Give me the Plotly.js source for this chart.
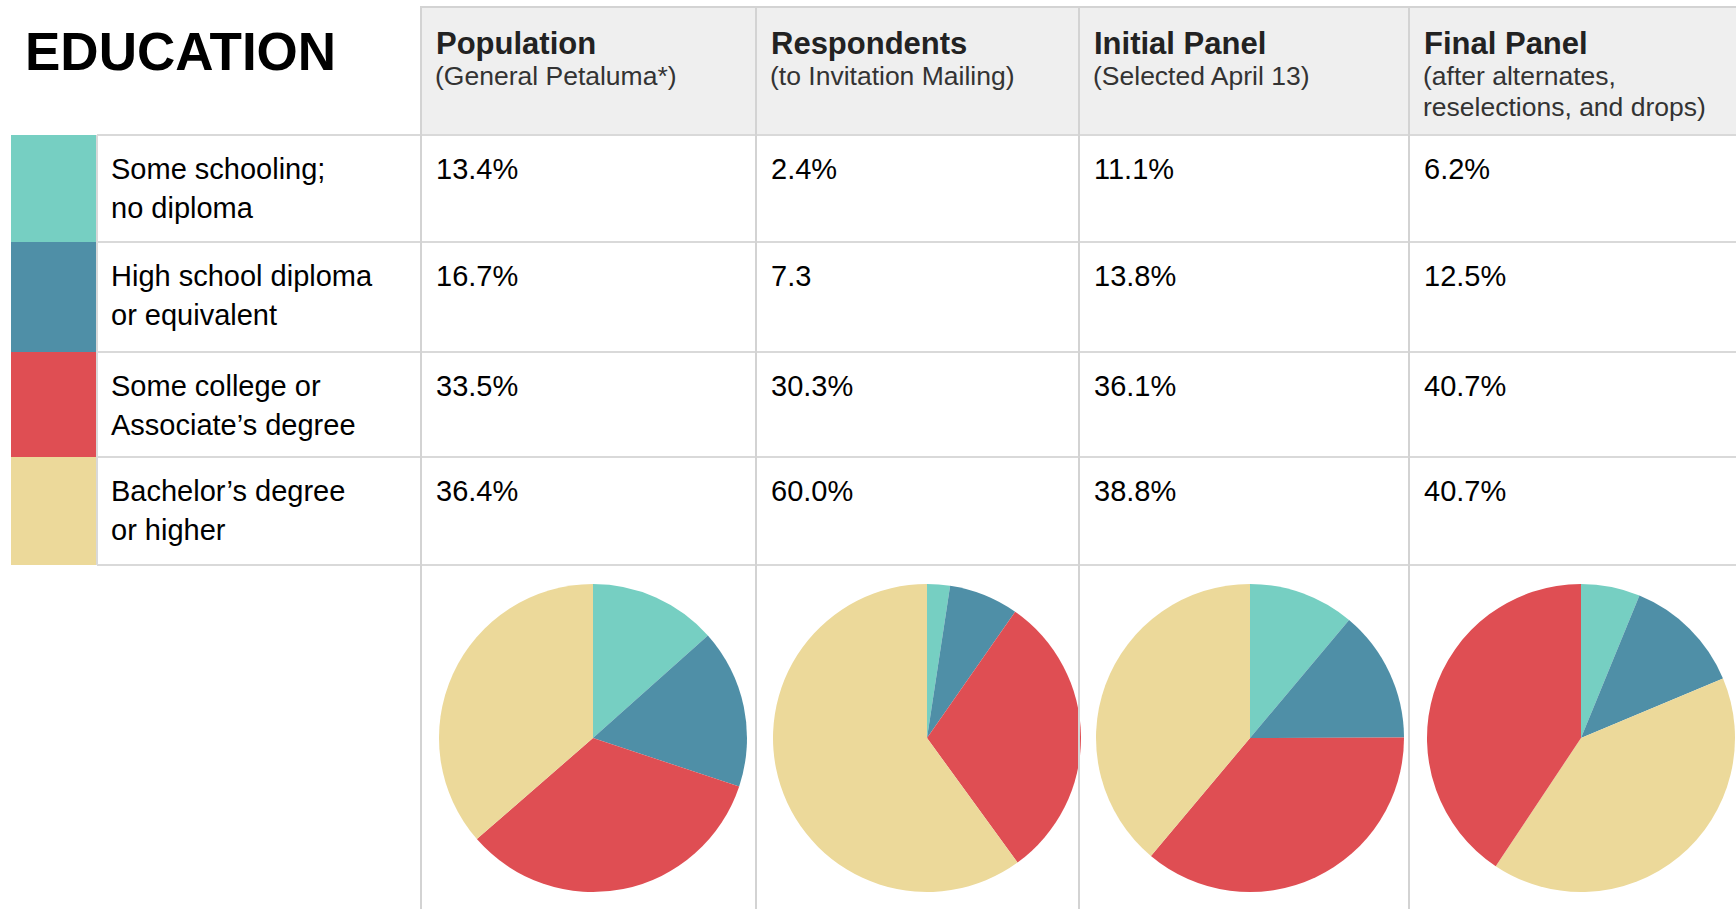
<!DOCTYPE html>
<html><head><meta charset="utf-8">
<script src="https://cdn.plot.ly/plotly-3.0.1.min.js"></script>
<style>html,body{margin:0;padding:0;background:#fff;overflow:hidden}#chart{width:1736px;height:909px}</style>
</head><body><div id="chart"></div>
<script>
// ---- data ----
const chartTitle = 'EDUCATION';
const categories = ['Some schooling;<br>no diploma', 'High school diploma<br>or equivalent', 'Some college or<br>Associate’s degree', 'Bachelor’s degree<br>or higher'];
const categoryColors = ['#76cfc2', '#4f8fa7', '#df4e53', '#ecd99a'];
const groups = ['Population', 'Respondents', 'Initial Panel', 'Final Panel'];
const groupNotes = ['(General Petaluma*)', '(to Invitation Mailing)', '(Selected April 13)', '(after alternates,<br>reselections, and drops)'];
const population = [13.4, 16.7, 33.5, 36.4];
const respondents = [2.4, 7.3, 30.3, 60.0];
const initialPanel = [11.1, 13.8, 36.1, 38.8];
const finalPanel = [6.2, 12.5, 40.7, 40.7];
const populationText = ['13.4%', '16.7%', '33.5%', '36.4%'];
const respondentsText = ['2.4%', '7.3', '30.3%', '60.0%'];
const initialPanelText = ['11.1%', '13.8%', '36.1%', '38.8%'];
const finalPanelText = ['6.2%', '12.5%', '40.7%', '40.7%'];
const sliceOrders = [[0, 1, 2, 3], [0, 1, 2, 3], [0, 1, 2, 3], [0, 1, 3, 2]];

const seriesValues = [population, respondents, initialPanel, finalPanel];
const seriesText = [populationText, respondentsText, initialPanelText, finalPanelText];

// ---- layout geometry (pixels) ----
const W = 1736, H = 909;
const colX = [421, 756, 1079, 1409];
const rowY = [135, 242, 352, 457, 565];
const headerTop = 7;
const swatchX0 = 11, swatchX1 = 96, labelX0 = 97;
const pieCX = [593, 927, 1250, 1581], pieCY = 738, pieR = 154;
const FONT = '"Liberation Sans", Arial, sans-serif';
const lineCol = '#d3d3d3';

const px = x => x / W;
const py = y => 1 - y / H;

const shapes = [];
const annotations = [];

// header background
shapes.push({type: 'rect', xref: 'paper', yref: 'paper', x0: px(colX[0]), x1: px(W), y0: py(rowY[0]), y1: py(headerTop),
  fillcolor: '#efefef', line: {width: 0}, layer: 'below'});
// swatches
categories.forEach((c, i) => {
  shapes.push({type: 'rect', xref: 'paper', yref: 'paper', x0: px(swatchX0), x1: px(swatchX1), y0: py(rowY[i + 1]), y1: py(rowY[i]),
    fillcolor: categoryColors[i], line: {width: 0}, layer: 'below'});
});
// horizontal lines
shapes.push({type: 'line', xref: 'paper', yref: 'paper', x0: px(colX[0] - 1), x1: px(W), y0: py(headerTop), y1: py(headerTop), line: {color: lineCol, width: 2}});
rowY.forEach(y => {
  shapes.push({type: 'line', xref: 'paper', yref: 'paper', x0: px(labelX0), x1: px(W), y0: py(y), y1: py(y), line: {color: '#d9d9d9', width: 2}});
});
// vertical lines
colX.forEach(x => {
  shapes.push({type: 'line', xref: 'paper', yref: 'paper', x0: px(x), x1: px(x), y0: py(headerTop), y1: py(H), line: {color: lineCol, width: 2}});
});
shapes.push({type: 'line', xref: 'paper', yref: 'paper', x0: px(labelX0), x1: px(labelX0), y0: py(rowY[0]), y1: py(rowY[rowY.length - 1]), line: {color: '#d9d9d9', width: 2}});

function addText(text, x, y, size, color, bold) {
  annotations.push({text: bold ? '<b>' + text + '</b>' : text, xref: 'paper', yref: 'paper', x: px(x), y: py(y),
    xanchor: 'left', yanchor: 'middle', showarrow: false, align: 'left',
    font: {family: FONT, size: size, color: color}});
}

// title
addText(chartTitle, 23, 52, 53, '#000', true);
// headers
groups.forEach((g, i) => {
  addText(g, colX[i] + 13, 44, 31, '#222', true);
  groupNotes[i].split('<br>').forEach((ln, k) => addText(ln, colX[i] + 12, 76 + k * 31, 26.5, '#333', false));
});
// row labels and cells
categories.forEach((c, r) => {
  c.split('<br>').forEach((ln, k) => addText(ln, labelX0 + 12, rowY[r] + 34 + k * 39, 29, '#000', false));
  seriesText.forEach((arr, j) => addText(arr[r], colX[j] + 13, rowY[r] + 34, 29, '#000', false));
});

// pies
const traces = seriesValues.map((vals, j) => {
  const ord = sliceOrders[j];
  return {
    type: 'pie', sort: false, direction: 'clockwise', rotation: 0,
    labels: ord.map(k => categories[k].replace('<br>', ' ')),
    values: ord.map(k => vals[k]),
    marker: {colors: ord.map(k => categoryColors[k]), line: {width: 0}},
    textinfo: 'none', hoverinfo: 'label+percent', showlegend: false,
    domain: {x: [px(pieCX[j] - pieR), px(pieCX[j] + pieR)], y: [py(pieCY + pieR), py(pieCY - pieR)]}
  };
});

Plotly.newPlot('chart', traces, {
  width: W, height: H, margin: {l: 0, r: 0, t: 0, b: 0},
  paper_bgcolor: '#fff', plot_bgcolor: '#fff', showlegend: false,
  shapes: shapes, annotations: annotations
}, {displayModeBar: false, staticPlot: true});
</script>
</body></html>
